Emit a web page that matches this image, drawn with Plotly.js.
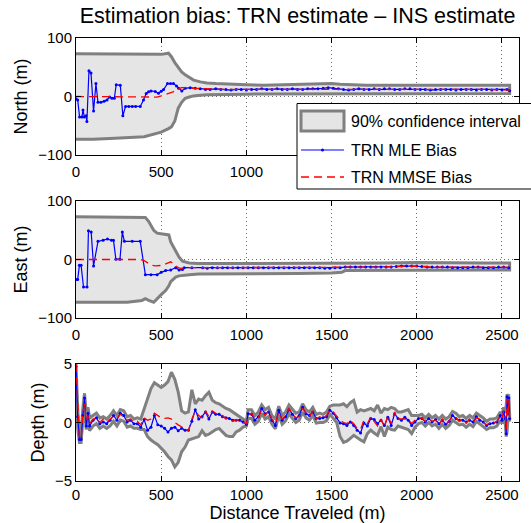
<!DOCTYPE html>
<html>
<head>
<meta charset="utf-8">
<script src="https://cdn.plot.ly/plotly-3.0.1.min.js"></script>
<style>html,body{margin:0;padding:0;background:#fff;}#chart{width:531px;height:523px;}</style>
</head>
<body>
<div id="chart"></div>
<script>
// ---------- North ----------
const northCiX = [0,100,200,300,400,500,543,560,580,600,620,641,665,690,730,768,820,885,1000,1100,1300,1450,1500,1550,1700,1900,2100,2300,2545];
const northCiUpper = [73,73,73,72,72,72,74,68,58,49,42,37,32,28,25,23,22,21,20,19,20,22,22,21,19,19,19,19,19];
const northCiLower = [-73,-73,-72,-71,-69,-61,-55,-52,-42,-20,-10,-3,-1,1,2,3,3.5,3.5,4,4,5,5,5,5,5,5,5,5,5];

const northMleX = [0,10,21,35,41,49,59,64,76,88,103,117,129,146,165,182,197,211,225,236,260,275,291,310,330,350,377,396,412,426,440,465,484,500,514,537,555,572,590,602,621,641,670,700,729,760,787,
  820,850,880,910,940,970,1000,1030,1060,1090,1120,1150,1180,1210,1240,1270,1300,1330,1360,1390,1420,1450,1480,1510,1540,1570,1600,1630,1660,1690,1720,1750,1780,1810,1840,1870,1900,1930,1960,1990,2020,2050,2080,2110,2140,2170,2200,2230,2260,2290,2320,2350,2380,2410,2440,2470,2500,2530,2545];
const northMle = [-4,-6,-35,-35,-23,-35,-33,-43,44,40,-25,22,-10,-10,-8,-6,-1,-3,-3,20,19,-33,-17,-17,-17,-17,-17,-6,5,8,9.5,8.5,5.5,9,12,22,22,22,18,14,9.5,14,15,14,13,12,12,
  13,12,12,11,12,12,11,12,12,13,
  12,12,13,12,12,13,12,12,13,13,
  13,14,15,14,13,12,11,12,13,12,
  12,13,12,13,13,12,12,13,13,12,
  12,12,11,12,12,12,12,11,12,12,
  12,11,12,12,11,12,11,12,10];

const northMmseX = [0,100,200,300,400,450,476,500,545,570,585,600,620,635,660,700,750,800,900,1000,1200,1400,1500,1600,1800,2000,2200,2400,2545];
const northMmse = [0,0,0,0,0,0,-1,1,5,8,11,13,15,15,14,14,13,13,12,12,12,12,13,12,12,12,12,12,11];

// ---------- East ----------
const eastCiX = [0,100,200,300,387,407,427,456,476,500,526,545,556,570,585,605,625,665,720,784,900,1100,1300,1500,1560,1580,1600,1800,2000,2200,2400,2545];
const eastCiUpper = [73,73,73,73,73,72,65,50,45,44,43,42,30,22,13,4,-3,-6,-7,-7,-7,-7,-7,-7,-7,-7,-6,-6,-5,-6,-6,-6];
const eastCiLower = [-73,-73,-73,-73,-70,-67,-70,-73,-67,-60,-53,-45,-38,-34,-30,-28,-27,-26,-25,-24,-24,-24,-24,-23,-22,-19,-18,-18,-18,-18,-18,-18];

const eastMleX = [0,10,20,30,44,65,73,89,103,129,159,185,208,220,234,258,272,284,330,377,407,440,476,500,526,556,585,605,625,635,680,744,
  770,800,830,860,890,920,950,980,1010,1040,1070,1100,1130,1160,1190,1220,1250,1280,1310,1340,1370,1400,1430,1460,1490,1520,1550,1580,1610,1640,1670,1700,1730,1760,1790,1820,1850,1880,1910,1940,1970,2000,2030,2060,2090,2120,2150,2180,2210,2240,2270,2300,2330,2360,2390,2420,2450,2480,2510,2540];
const eastMle = [-34,-34,-10,-10,-47,-47,49,47,-11,31,33,35,33,33,0.5,0.5,47,31,31,31,-26,-26,-26,-22,-19,-18,-14,-18,-17,-14,-14,-14,
  -15,-14,-14,-14,-14,-14,-14,-14,-14,-14,
  -14,-14,-14,-14,-14,-14,-14,-14,-14,-14,
  -14,-14,-14,-15,-15,-14,-14,-13,-13,-13,
  -13,-13,-13,-13,-13,-13,-13,-12,-11,-11,
  -11,-11,-12,-13,-13,-13,-13,-13,-14,-14,
  -14,-14,-13,-13,-14,-14,-14,-13,-13,-14];

const eastMmseX = [0,100,200,300,380,400,427,445,466,490,506,530,556,570,585,600,615,640,700,800,1000,1200,1400,1600,1800,1890,1950,2050,2100,2300,2545];
const eastMmse = [0,0,0,0,0,-2,-7,-10,-11,-11,-10,-7,-4,-7,-11,-14,-15,-14,-14,-14,-14,-14,-14,-13,-13,-12,-11,-12,-13,-13,-13];

// ---------- Depth ----------
const depthX = [0,10,20,30,40,50,60,70,80,
  100,120,140,160,180,200,220,240,260,280,300,320,340,360,380,400,420,440,460,480,500,520,540,560,580,600,620,640,660,680,700,720,740,760,780,800,820,840,860,880,900,920,940,960,980,
  1000,
  1010,1030,1050,1070,1090,1110,1130,1150,1170,1190,1210,1230,1250,1270,1290,1310,1330,1350,1370,1390,1410,1430,1450,1470,1490,
  1510,1530,1550,1570,1590,1610,1630,1650,1670,1690,1710,1730,1750,1770,1790,1810,1830,1850,1870,1890,
  1910,1930,1950,1970,1990,2010,2030,2050,2070,2090,2110,2130,2150,2170,2190,2210,2230,2250,2270,2290,
  2310,2330,2350,2370,2390,2410,2430,2450,2470,2490,
  2500,2510,2520,2525,2530,2535,2540,2545];
const depthMle = [4.8,0.5,-1.45,-1.45,0.6,2.1,-0.3,0.8,-0.3,
  0.2,0.4,-0.1,0.05,-0.1, 0.2,0.6,0.2,0.8,0.6, 0.05,0.2,-0.1,-0.1,-0.4, 0.25,-0.65,-0.4,0.6,-0.2,
  -0.3,-0.5,-0.8,-0.5,-0.4, -0.7,-0.5,-0.65,-0.65,0.1, 1.1,0.3,0.5,0.9,0.3, 0.9,0.7,0.7,0.5,0.4, 0.35,0.2,0.2,0.2,0.05,
  -0.15,
  0.75,0.7,0.2,0.5,1.2, 0.75,0.9,0.2,-0.25,1.05, 0.2,0.5,1.1,0.7,0.35, 0.6,1.3,0.75,0.6,0.9, 0.35,0.35,0.4,0.5,1.05,
  0.8,0.4,-0.05,-0.1,-0.25, 0.05,-0.25,-0.65,-0.9,-0.05, -0.3,0.35,0.25,-0.1,0.2, -0.25,0.45,-0.25,0.75,0.35,
  0.2,0.45,0.2,-0.25,0.05, 0.35,0.35,0.05,0.35,0.05, 0.25,-0.1,0.2,-0.15,0.1, 0.6,0.35,0.2,0.2,0.05,
  0.2,0.05,0.5,0.2,0.05, -0.25,-0.1,-0.05,0.05,0.6,
  0.2,0.9,0.35,-0.95,2.2,0.75,2.1,0.35];
const depthMmse = [5.0,1.0,-1.3,-1.4,0.8,1.6,0.1,0.6,-0.1,
  0.3,0.4,0.0,0.3,0.0, 0.3,0.5,0.3,0.7,0.5, 0.2,0.3,0.0,0.1,-0.2, 0.4,0.2,0.3,0.8,0.6,
  0.4,0.35,0.4,0.3,0.0, -0.2,-0.4,-0.55,-0.7,0.3, 1.0,0.6,0.4,1.0,0.5, 1.0,0.8,0.6,0.6,0.3, 0.4,0.1,0.25,0.1,0.0,
  -0.1,
  0.6,0.8,0.3,0.4,1.1, 0.6,1.0,0.3,-0.1,0.9, 0.3,0.6,1.2,0.8,0.4, 0.5,1.2,0.8,0.5,1.0, 0.3,0.5,0.3,0.6,1.1,
  0.9,0.5,0.2,0.0,-0.1, 0.2,-0.1,-0.5,-0.6,0.2, -0.1,0.5,0.1,-0.3,0.3, -0.4,0.6,-0.1,0.9,0.3,
  0.3,0.3,0.3,-0.1,0.2, 0.3,0.4,0.1,0.3,0.1, 0.2,-0.2,0.3,-0.2,0.2, 0.5,0.4,0.1,0.3,-0.05,
  0.3,0.0,0.4,0.3,0.0, -0.2,0.0,-0.1,0.1,0.5,
  0.3,1.0,0.5,-0.6,2.0,0.5,2.0,0.4];
const depthCiUpper = [5.0,1.2,-0.9,-0.9,1.2,2.5,0.9,1.3,0.4,
  0.6,0.8,0.4,0.5,0.3, 0.6,1.0,0.6,1.1,1.0, 0.5,0.6,0.3,0.4,0.3, 1.2,2.0,2.9,3.4,3.2,
  3.0,3.2,3.5,4.3,3.7, 2.6,1.0,0.8,0.9,2.8, 1.6,2.0,1.9,2.3,2.6, 1.9,1.7,1.6,1.4,1.2, 1.1,0.9,0.75,0.55,0.3,
  0.1,
  1.1,1.1,0.6,0.9,1.5, 1.1,1.3,0.6,0.3,1.4, 0.6,0.9,1.5,1.1,0.8, 0.9,1.6,1.1,0.9,1.3, 0.7,0.8,0.7,0.9,1.4,
  1.5,1.5,1.5,1.6,1.35, 1.7,1.9,0.9,1.1,1.0, 1.1,1.2,1.0,1.5,0.8, 1.2,1.1,1.3,1.2,0.9,
  0.9,1.0,1.1,0.6,0.6, 0.6,0.7,0.4,0.7,0.4, 0.6,0.3,0.6,0.3,0.5, 0.95,0.8,0.5,0.6,0.35,
  0.6,0.4,0.8,0.6,0.4, 0.1,0.3,0.3,0.4,0.9,
  0.6,1.3,0.8,1.5,2.4,2.3,2.3,0.8];
const depthCiLower = [4.5,-0.5,-1.7,-1.7,0.2,1.4,-0.6,0.3,-0.7,
  -0.3,-0.1,-0.5,-0.3,-0.5, -0.3,0.1,-0.3,0.2,0.1, -0.4,-0.3,-0.5,-0.5,-0.6, -0.6,-1.2,-1.5,-1.7,-1.9,
  -2.2,-2.5,-2.9,-3.2,-3.8, -3.4,-2.5,-2.1,-1.5,-1.4, -1.3,-1.2,-0.7,-1.1,-1.0, -0.8,-0.6,-0.5,-0.8,-1.1, -1.2,-1.2,-0.8,-0.65,-0.4,
  -0.3,
  0.35,0.35,-0.15,0.1,0.8, 0.3,0.5,-0.15,-0.55,0.6, -0.15,0.15,0.75,0.35,0.0, 0.2,0.9,0.4,0.2,0.6, -0.05,0.0,0.0,0.15,0.7,
  0.4,0.0,-1.2,-1.7,-1.6, -1.35,-1.1,-1.3,-1.5,-1.65, -0.95,-0.65,-0.9,-1.1,-0.35, -1.2,-0.4,-0.6,-0.65,-0.3,
  -0.35,-0.5,-0.6,-0.95,-0.4, -0.1,0.0,-0.3,0.0,-0.3, -0.15,-0.5,-0.15,-0.5,-0.25, 0.2,0.0,-0.2,-0.15,-0.4,
  -0.15,-0.35,0.1,-0.15,-0.35, -0.6,-0.45,-0.45,-0.3,0.2,
  -0.1,0.5,-0.2,-1.2,-0.8,0.3,0.2,0.1];

const xTicks = [0,500,1000,1500,2000,2500];
const xTickText = ['0','500','1000','1500','2000','2500'];
const xTickTextTop = ['0','500','1000','','',''];   // the rest sit under the legend box
const labelCI = '90% confidence interval';
const labelMLE = 'TRN MLE Bias';
const labelMMSE = 'TRN MMSE Bias';

// ---------- styles ----------
const CI_FILL = '#e5e5e5', CI_LINE = '#808080', MLE_C = '#0000ff', MMSE_C = '#ff0000', MMSE_DASH = '8px,5px';

function band(x, up, lo) {
  return { x: x.concat(x.slice().reverse()), y: up.concat(lo.slice().reverse()) };
}
const ciStyle = { type: 'scatter', mode: 'lines', fill: 'toself', fillcolor: CI_FILL,
  line: { color: CI_LINE, width: 3 }, hoverinfo: 'skip', showlegend: false };
const mleStyle = { type: 'scatter', mode: 'lines+markers', line: { color: MLE_C, width: 1.2 },
  marker: { color: MLE_C, size: 3 }, showlegend: false };
const mmseStyle = { type: 'scatter', mode: 'lines', line: { color: MMSE_C, width: 1.3, dash: MMSE_DASH }, showlegend: false };

const panels = [
  { ax: '', ciX: northCiX, up: northCiUpper, lo: northCiLower, mx: northMleX, my: northMle, rx: northMmseX, ry: northMmse },
  { ax: '2', ciX: eastCiX, up: eastCiUpper, lo: eastCiLower, mx: eastMleX, my: eastMle, rx: eastMmseX, ry: eastMmse },
  { ax: '3', ciX: depthX, up: depthCiUpper, lo: depthCiLower, mx: depthX, my: depthMle, rx: depthX, ry: depthMmse }
];
const traces = [];
panels.forEach(p => {
  const b = band(p.ciX, p.up, p.lo);
  const xa = 'x' + p.ax, ya = 'y' + p.ax;
  traces.push(Object.assign({}, ciStyle, { x: b.x, y: b.y, xaxis: xa, yaxis: ya, name: labelCI }));
  traces.push(Object.assign({}, mleStyle, { x: p.mx, y: p.my, xaxis: xa, yaxis: ya, name: labelMLE }));
  traces.push(Object.assign({}, mmseStyle, { x: p.rx, y: p.ry, xaxis: xa, yaxis: ya, name: labelMMSE }));
});

const font = 'Liberation Sans, Arial, Helvetica, sans-serif';
const GRID = { showgrid: true, gridcolor: '#6a6a6a', griddash: '1px,3px', gridwidth: 1, zeroline: false };
function xAxis(anchor, ticktext, standoff, title) {
  const a = Object.assign({ anchor: anchor, range: [0, 2600], tickvals: xTicks, ticktext: ticktext, ticks: 'inside', ticklen: 5,
    tickcolor: '#000', showline: true, linecolor: '#000', linewidth: 1, mirror: 'ticks', ticklabelstandoff: standoff,
    tickfont: { size: 15, color: '#000', family: font } }, GRID);
  if (title) a.title = { text: title, font: { size: 18, color: '#000', family: font }, standoff: 4 };
  return a;
}
function yAxis(anchor, dom, rng, ticks, title) {
  return Object.assign({ anchor: anchor, domain: dom, range: rng, tickvals: ticks, ticks: 'inside', ticklen: 5, tickcolor: '#000',
    showline: true, linecolor: '#000', linewidth: 1, mirror: 'ticks',
    tickfont: { size: 15, color: '#000', family: font },
    title: { text: title, font: { size: 18, color: '#000', family: font }, standoff: 5 } }, GRID);
}

// ---------- legend box (MATLAB style), in paper coordinates ----------
const PW = 443, PH = 443, ML = 76, PB = 481;      // plot-area size and offsets in px
const px = v => (v - ML) / PW;
const py = v => (PB - v) / PH;
const shapes = [
  { type: 'rect', xref: 'paper', yref: 'paper', x0: px(297), x1: px(545), y0: py(189), y1: py(103.5),
    fillcolor: '#fff', line: { color: '#000', width: 1 }, layer: 'above' },
  { type: 'rect', xref: 'paper', yref: 'paper', x0: px(301), x1: px(344), y0: py(131), y1: py(111),
    fillcolor: CI_FILL, line: { color: CI_LINE, width: 3 }, layer: 'above' },
  { type: 'line', xref: 'paper', yref: 'paper', x0: px(301), x1: px(344), y0: py(150), y1: py(150),
    line: { color: MLE_C, width: 1.2 }, layer: 'above' },
  { type: 'circle', xref: 'paper', yref: 'paper', x0: px(321), x1: px(324), y0: py(151.5), y1: py(148.5),
    fillcolor: MLE_C, line: { color: MLE_C, width: 0 }, layer: 'above' },
  { type: 'line', xref: 'paper', yref: 'paper', x0: px(301), x1: px(344), y0: py(177), y1: py(177),
    line: { color: MMSE_C, width: 1.3, dash: MMSE_DASH }, layer: 'above' }
];
const legendFont = { size: 16, color: '#000', family: font };
const annotations = [
  { text: labelCI, xref: 'paper', yref: 'paper', x: px(349), y: py(121), xanchor: 'left', yanchor: 'middle', showarrow: false, font: legendFont },
  { text: labelMLE, xref: 'paper', yref: 'paper', x: px(349), y: py(150), xanchor: 'left', yanchor: 'middle', showarrow: false, font: legendFont },
  { text: labelMMSE, xref: 'paper', yref: 'paper', x: px(349), y: py(177), xanchor: 'left', yanchor: 'middle', showarrow: false, font: legendFont }
];

const layout = {
  width: 531, height: 523,
  margin: { l: 76, r: 12, t: 38, b: 42 },
  paper_bgcolor: '#fff', plot_bgcolor: '#fff',
  font: { family: font, color: '#000' },
  title: { text: 'Estimation bias: TRN estimate \u2013 INS estimate', font: { size: 21.5, color: '#000', family: font },
    x: 0.5, xref: 'paper', y: 1 - 15 / 523, yref: 'container', yanchor: 'middle' },
  xaxis: xAxis('y', xTickTextTop, 3),
  yaxis: yAxis('x', [0.736, 1], [-100, 100], [-100, 0, 100], 'North (m)'),
  xaxis2: xAxis('y2', xTickText, 3),
  yaxis2: yAxis('x2', [0.368, 0.632], [-100, 100], [-100, 0, 100], 'East (m)'),
  xaxis3: xAxis('y3', xTickText, 0, 'Distance Traveled (m)'),
  yaxis3: yAxis('x3', [0, 0.264], [-5, 5], [-5, 0, 5], 'Depth (m)'),
  showlegend: false,
  shapes: shapes,
  annotations: annotations
};

Plotly.newPlot('chart', traces, layout, { displayModeBar: false, staticPlot: true });
</script>
</body>
</html>
